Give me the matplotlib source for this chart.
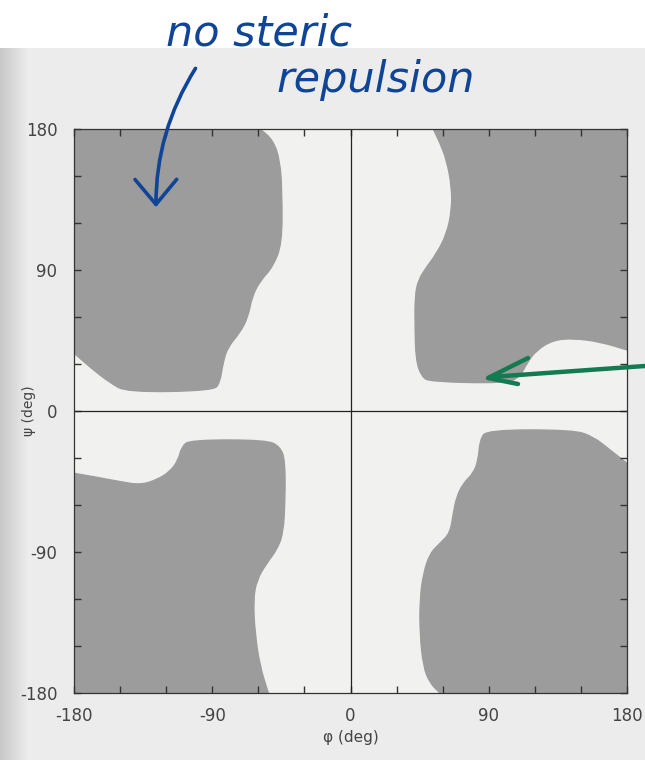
import numpy as np
import matplotlib
matplotlib.use("Agg")
import matplotlib.pyplot as plt
from matplotlib.patches import PathPatch, FancyArrowPatch
from matplotlib.path import Path
from matplotlib.lines import Line2D

# ---- data: boundaries of allowed (gray) regions, (phi, psi) in degrees ----
top_left_phi = [-180, -58.9, -50.5, -45.9, -44.6, -44.6, -50.5, -58.9, -64.1, -66.7,
                -71.9, -79.8, -83.0, -85.0, -89.5, -145.5, -156.6, -169.6, -180]
top_left_psi = [180, 180, 173, 160, 139, 107, 92, 83, 73, 60,
                50, 41, 31, 18, 13, 12, 18, 28, 37]

top_right_phi = [53.9, 58.3, 62.6, 65.9, 65.9, 62.6, 56.1, 49.6, 44.1, 42.0, 42.0,
                 42.6, 46.3, 51.8, 101.7, 110.4, 114.7, 121.2, 132.0, 145.0, 162.4, 180, 180]
top_right_psi = [180, 171, 160, 143, 128, 113, 100.6, 92, 83.6, 73, 54,
                 32.5, 22, 18.7, 17.7, 22, 30.4, 39, 45.3, 46.4, 44.2, 39, 180]

bottom_left_phi = [-180, -167.4, -150.0, -137.0, -126.2, -117.5, -112.1, -109.9, -104.5,
                   -54.6, -45.9, -42.6, -42.6, -43.8, -48.0, -54.6, -61.1, -63.3, -62.2,
                   -58.9, -53.5, -180]
bottom_left_psi = [-39.8, -41.9, -45.1, -47.2, -44.0, -38.7, -31.3, -22.8, -18.5,
                   -18.5, -22.8, -31.3, -56.8, -78.0, -88.7, -97.2, -107.9, -120.6, -141.9,
                   -163.2, -180, -180]

bottom_right_phi = [58.3, 51.8, 47.4, 45.2, 45.2, 47.4, 51.8, 58.3, 64.8, 66.9, 69.1,
                    73.4, 80.0, 83.2, 84.3, 88.7, 145.0, 158.0, 169.0, 180, 180]
bottom_right_psi = [-180, -173.8, -163.2, -141.9, -120.6, -103.6, -90.8, -84.4, -78.0,
                    -65.3, -54.7, -46.1, -39.8, -31.3, -18.5, -12.1, -12.1, -16.4, -24.9,
                    -33.4, -180]

regions = [(top_left_phi, top_left_psi), (top_right_phi, top_right_psi),
           (bottom_left_phi, bottom_left_psi), (bottom_right_phi, bottom_right_psi)]

tick_major = [-180, -90, 0, 90, 180]
tick_minor = list(range(-180, 181, 30))
tick_labels = ["-180", "-90", "0", "90", "180"]


def rounded_path(px, py):
    """Closed path through the boundary points; interior corners drawn as
    quadratic curves, points on the plot frame kept sharp."""
    pts = np.column_stack([px, py]).astype(float)
    n = len(pts)
    verts, codes = [], []
    for i in range(n):
        p, v, q = pts[i - 1], pts[i], pts[(i + 1) % n]
        sharp = abs(v[0]) >= 180 or abs(v[1]) >= 180
        if sharp:
            verts.append(v); codes.append(Path.LINETO)
        else:
            verts += [(p + v) / 2, v, (v + q) / 2]
            codes += [Path.LINETO, Path.CURVE3, Path.CURVE3]
    codes[0] = Path.MOVETO
    verts.append(verts[0]); codes.append(Path.CLOSEPOLY)
    return Path(verts, codes)


W, H = 645, 760
fig = plt.figure(figsize=(W / 100, H / 100), dpi=100)

# scanned-page background
bg = fig.add_axes([0, 0, 1, 1], zorder=-5)
img = np.full((H, W), 0.925)
xs = np.arange(W)
strip = 0.78 + 0.145 * np.clip(xs / 28.0, 0, 1)
img[:, :] = np.minimum(img, strip[None, :])
img[:48, :] = 1.0
bg.imshow(img, cmap="gray", vmin=0, vmax=1, aspect="auto", interpolation="bilinear")
bg.axis("off")

ax = fig.add_axes([74 / W, 1 - 693 / H, (627 - 74) / W, (693 - 129) / H])
ax.set_facecolor("#f1f1f0")
for px, py in regions:
    ax.add_patch(PathPatch(rounded_path(px, py), facecolor="#9c9c9c",
                           edgecolor="#9c9c9c", linewidth=1.0, zorder=1))
ax.axhline(0, color="#222222", lw=0.9, zorder=2)
ax.axvline(0, color="#222222", lw=0.9, zorder=2)
ax.set_xlim(-180, 180)
ax.set_ylim(-180, 180)
ax.set_xticks(tick_major)
ax.set_xticklabels(tick_labels)
ax.set_yticks(tick_major)
ax.set_yticklabels(tick_labels)
ax.set_xticks(tick_minor, minor=True)
ax.set_yticks(tick_minor, minor=True)
ax.tick_params(which="both", direction="in", top=True, right=True, length=5,
               width=1.0, color="#333333")
ax.tick_params(which="major", labelsize=12, labelcolor="#444444")
ax.tick_params(axis="x", which="major", pad=10)
ax.tick_params(axis="y", which="major", pad=12)
for s in ax.spines.values():
    s.set_color("#333333")
    s.set_linewidth(0.9)
    s.set_zorder(3)
ax.set_xlabel("φ (deg)", fontsize=11, color="#444444", labelpad=4)
ax.set_ylabel("ψ (deg)", fontsize=10, color="#444444")
ax.yaxis.set_label_coords((36 - 74) / (627 - 74), 0.5)

# handwritten annotations (figure pixel coordinates)
def fxy(x, y):
    return (x / W, 1 - y / H)

blue = "#0f4496"
fig.text(*fxy(166, 34), "no steric", fontsize=31, color=blue, style="italic",
         family="DejaVu Sans", va="center", ha="left")
fig.text(*fxy(276, 80), "repulsion", fontsize=31, color=blue, style="italic",
         family="DejaVu Sans", va="center", ha="left")
arr = FancyArrowPatch(fxy(197, 66), fxy(156, 210), transform=fig.transFigure,
                      connectionstyle="arc3,rad=0.15",
                      arrowstyle="->,head_length=6,head_width=5",
                      color=blue, lw=2.6, mutation_scale=3, capstyle="round")
fig.patches.append(arr)

green = "#137a52"
fig.add_artist(Line2D([645 / W, 490 / W], [1 - 366 / H, 1 - 377 / H],
                      transform=fig.transFigure, color=green, lw=3.2, solid_capstyle="round"))
fig.add_artist(Line2D([528 / W, 488 / W, 518 / W], [1 - 358 / H, 1 - 378 / H, 1 - 384 / H],
                      transform=fig.transFigure, color=green, lw=3.2,
                      solid_capstyle="round", solid_joinstyle="round"))

fig.savefig("out.png", dpi=100)
